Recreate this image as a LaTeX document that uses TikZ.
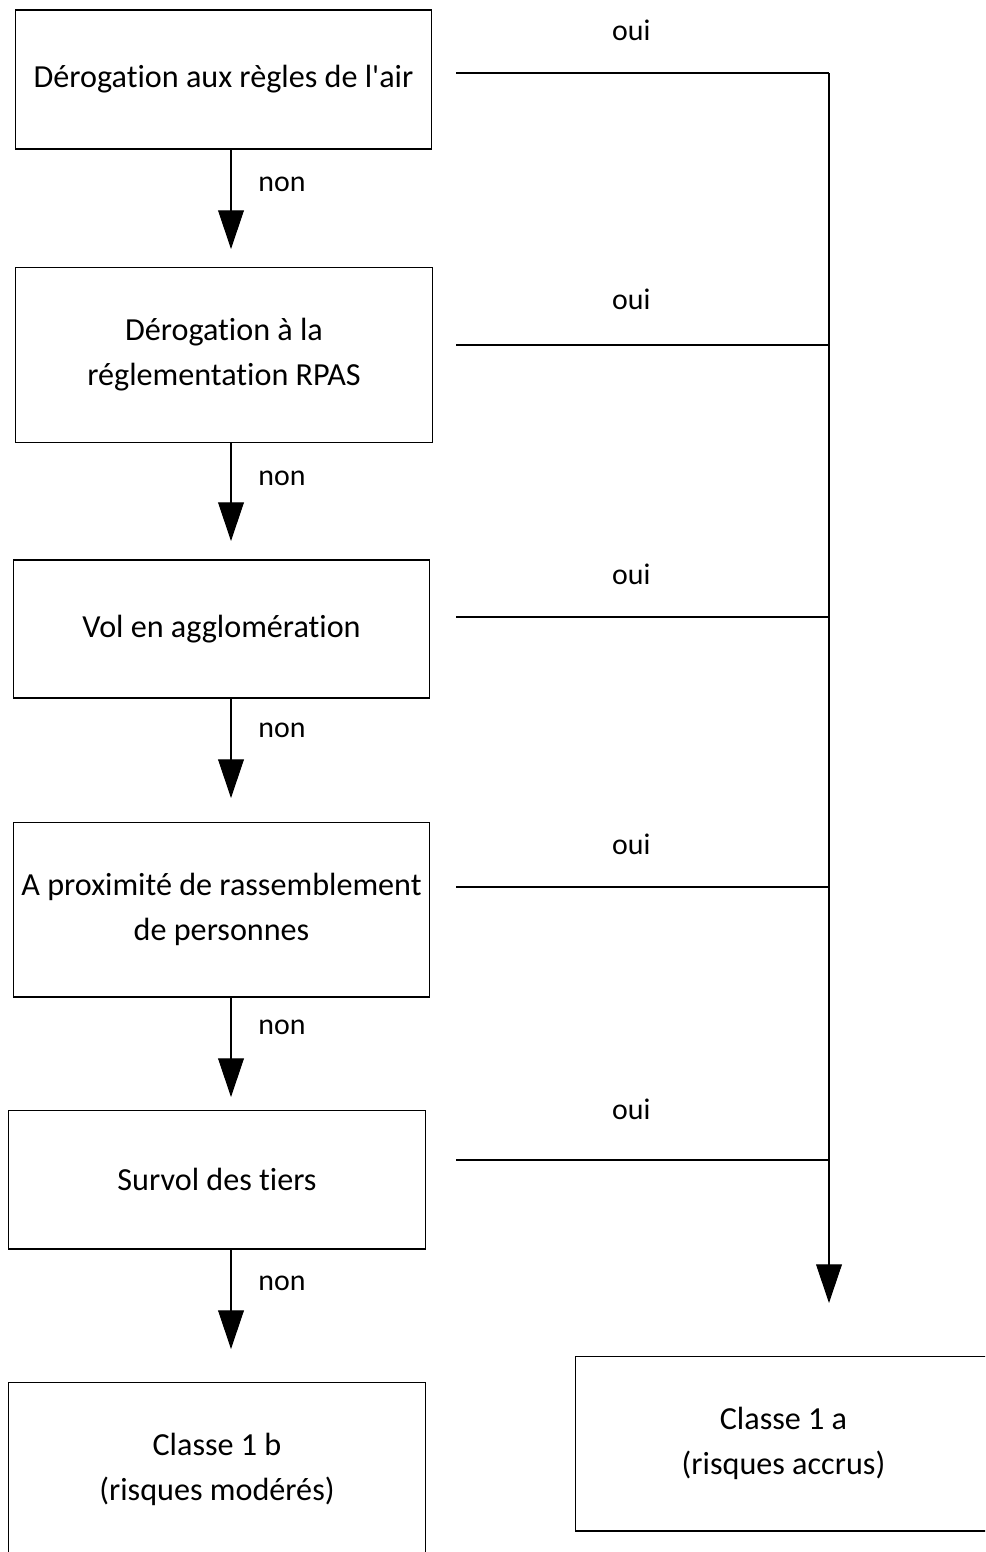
\documentclass[tikz,border=0pt]{standalone}
\usepackage{fontspec}
\setmainfont{Carlito}[Ligatures=NoCommon]
\usetikzlibrary{arrows.meta}

\begin{document}
\begin{tikzpicture}[x=0.02cm, y=-0.02cm, line width=0.6pt,
-{Triangle[width=14.7pt, length=22pt]}, auto,
box/.style = { draw, rectangle, align=center, minimum width=8.34cm, font=\fontsize{18.3}{25.6}\selectfont },
lbl/.style = { font=\fontsize{17}{20}\selectfont },
lbl_non/.style = { lbl, xshift=0.42cm },
arc_non/.style = { color = black },
arc_oui/.style = { color = black, - }]
\useasboundingbox (0,0) rectangle (985,1552);
\clip (0,0) rectangle (985,1552);
\node[box, minimum height=2.78cm] (air) at (223.5,79.5) {Dérogation aux règles de l\textquotesingle air};
\node[box, minimum height=3.5cm] (rpas) at (224,355) {Dérogation à la\\réglementation RPAS};
\node[box, minimum height=2.76cm] (aggl) at (221.5,629) {Vol en agglomération};
\node[box, minimum height=3.5cm] (rass) at (221.5,909.5) {A proximité de rassemblement\\de personnes};
\node[box, minimum height=2.78cm] (tiers) at (217,1179.5) {Survol des tiers};
\node[box, minimum height=3.5cm] (modere) at (217,1469.5) {Classe 1 b\\(risques modérés)};
\node[box, minimum height=3.5cm] (accru) at (783.5,1443.5) {Classe 1 a\\(risques accrus)};
% pointes des fleches "non"
\coordinate (n1) at (231,249);
\coordinate (n2) at (231,541);
\coordinate (n3) at (231,798);
\coordinate (n4) at (231,1097);
\coordinate (n5) at (231,1349);
% depart des traits "oui" et ligne de droite
\coordinate (o1) at (456,73);
\coordinate (o2) at (456,345);
\coordinate (o3) at (456,617);
\coordinate (o4) at (456,887);
\coordinate (o5) at (456,1160);
\coordinate (d1) at (829,73);
\coordinate (d2) at (829,345);
\coordinate (d3) at (829,617);
\coordinate (d4) at (829,887);
\coordinate (d5) at (829,1160);
\coordinate (fin) at (829,1303);
\path[arc_non] (air.south -| n1) edge node[lbl_non, pos=0.35] {non} (n1);
\path[arc_non] (rpas.south -| n2) edge node[lbl_non, pos=0.36] {non} (n2);
\path[arc_non] (aggl.south -| n3) edge node[lbl_non, pos=0.32] {non} (n3);
\path[arc_non] (rass.south -| n4) edge node[lbl_non, pos=0.3] {non} (n4);
\path[arc_non] (tiers.south -| n5) edge node[lbl_non, pos=0.34] {non} (n5);
\path[arc_oui] (o1) edge node[lbl, pos=0.47, above=0.52cm] {oui} (d1);
\path[arc_oui] (o2) edge node[lbl, pos=0.47, above=0.58cm] {oui} (d2);
\path[arc_oui] (o3) edge node[lbl, pos=0.47, above=0.52cm] {oui} (d3);
\path[arc_oui] (o4) edge node[lbl, pos=0.47, above=0.52cm] {oui} (d4);
\path[arc_oui] (o5) edge node[lbl, pos=0.47, above=0.68cm] {oui} (d5);
\path[arc_non] (d1) edge (fin);
\end{tikzpicture}
\end{document}
